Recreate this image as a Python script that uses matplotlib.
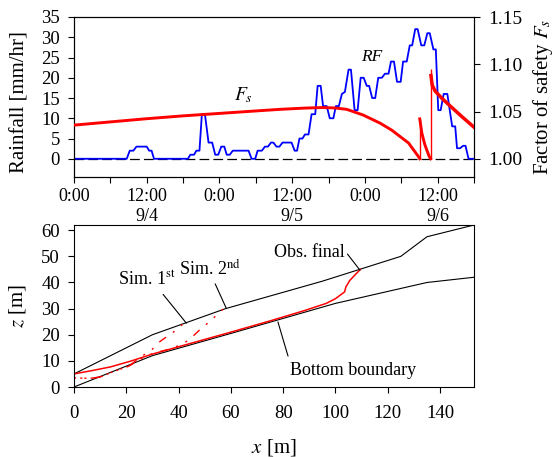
import matplotlib
matplotlib.use('Agg')
import matplotlib.pyplot as plt

plt.rcParams['font.family'] = ['Liberation Serif', 'DejaVu Serif']
plt.rcParams['mathtext.fontset'] = 'stix'
plt.rcParams['lines.scale_dashes'] = False

# ---------------- data: rainfall (hours from 9/4 0:00, mm/hr) ----------------
rain_t = [0, 8.7, 9.2, 9.8, 10.3, 12.0, 12.4, 12.8, 13.2, 18.8, 19.2, 19.8, 20.2, 20.7,
          21.1, 21.6, 22.2, 22.8, 23.3, 23.8, 24.3, 24.8, 25.2, 25.7, 26.2, 28.8, 29.3,
          29.9, 30.3, 31.0, 31.5, 32.0, 32.5, 32.9, 33.4, 33.9, 34.4, 35.9, 36.4, 36.8,
          37.2, 37.7, 38.1, 38.7, 39.2, 39.8, 40.2, 40.7, 41.1, 41.7, 42.2, 42.8, 43.2,
          43.7, 44.2, 44.7, 45.3, 45.7, 46.3, 46.8, 47.3, 47.8, 48.3, 48.7, 49.2, 49.7,
          50.2, 50.8, 51.3, 51.9, 52.3, 52.8, 53.3, 53.9, 54.3, 54.9, 55.4, 55.8, 56.3,
          56.7, 57.3, 57.8, 58.3, 58.7, 59.3, 59.7, 60.1, 60.5, 61.0, 61.6, 62.0, 62.4,
          62.9, 63.2, 63.7, 64.2, 64.6, 65.1, 66.0]
rain_v = [0, 0, 2, 2, 3, 3, 2, 2, 0, 0, 1, 1, 2, 2,
          11, 11, 4, 4, 1, 1, 3, 3, 1, 1, 2, 2, 0,
          0, 2, 2, 3, 3, 4, 4, 3, 3, 4, 4, 2, 2,
          5, 5, 6, 6, 11, 11, 18, 18, 13, 13, 10, 10, 13,
          13, 16, 16.5, 22, 22, 12, 12, 20, 20, 18, 18, 15, 15,
          20, 20, 21, 21, 24, 24, 19, 19, 24, 24, 28, 28, 32,
          32, 28, 28, 31, 31, 27, 27, 12, 12, 16, 16, 12, 8,
          8, 2.6, 2.6, 3.2, 3.2, 0, 0]

# ---------------- data: factor of safety ----------------
fs1_t = [0, 6, 12, 18, 24, 30, 34, 38, 41, 43, 45, 47.7, 50.5, 52.4, 55.2, 56.8, 57.05]
fs1_v = [1.0356, 1.0390, 1.0424, 1.0454, 1.0480, 1.0506, 1.0523, 1.0536, 1.0542,
         1.0538, 1.0523, 1.0463, 1.0377, 1.0304, 1.0167, 1.0026, 1.0]
fs2_t = [57.05, 57.4, 57.9, 58.6, 58.85]
fs2_v = [1.0422, 1.027, 1.0147, 1.0026, 1.0]
fs3_t = [58.9, 59.1, 59.6, 60.7, 62.3, 64.0, 66.0]
fs3_v = [1.088, 1.078, 1.0715, 1.064, 1.0545, 1.0446, 1.0334]
jump_t = [57.05, 58.85]
jump_lo = [1.0, 1.0]
jump_hi = [1.0422, 1.0947]

xtick_hours = [0, 12, 24, 36, 48, 60]
xtick_labels = ['0:00', '12:00\n9/4', '0:00', '12:00\n9/5', '0:00', '12:00\n9/6']

# ---------------- data: slope section ----------------
surf_x = [0, 30, 58, 95, 125, 135, 153]
surf_z = [5, 20, 30, 40.5, 50, 57.5, 62]
bot_x = [0, 30, 60, 100, 135, 153]
bot_z = [0, 12, 20.5, 32, 40, 42]
obs_x = [0, 7, 14, 22, 30, 45, 60, 75, 88, 96.5, 100, 103.5, 104, 105.5, 109.5]
obs_z = [5, 6.3, 7.7, 10.0, 12.6, 16.8, 21.0, 25.3, 29.2, 32, 33.8, 36.4, 38.3, 40.8, 45]
sim1_x = [0, 6, 10, 14, 21, 26, 30, 33, 38, 42.5]
sim1_z = [3.5, 3.3, 3.8, 5.5, 8, 11.8, 14.5, 17.5, 21, 24.8]
sim2_x = [0, 6, 10, 14, 21, 26, 30, 36.5, 40.5, 44, 48, 52.5, 57]
sim2_z = [3.5, 3.3, 3.8, 5.5, 8, 11.0, 12.8, 14.5, 16, 18, 21.8, 25.6, 29.8]

W, H = 558, 457
fig = plt.figure(figsize=(W / 100, H / 100), dpi=100)

# ================= top panel =================
ax1 = fig.add_axes([74 / W, 1 - 177 / H, 400 / W, 160 / H])
ax2 = ax1.twinx()

ax1.plot([0, 66], [0, 0], color='black', lw=0.9, ls=(0, (7, 3)), zorder=1)
ax1.plot(rain_t, rain_v, color='#0000ff', lw=1.3, zorder=2)
ax1.set_xlim(0, 66)
ax1.set_ylim(-4.5, 35)
ax1.set_yticks(range(0, 36, 5))
ax1.set_xticks(xtick_hours)
ax1.set_xticklabels(xtick_labels, fontsize=13, linespacing=1.25)
ax1.set_xticks([6, 18, 30, 42, 54, 66], minor=True)
ax1.tick_params(axis='x', which='both', direction='out', length=4, width=0.8, pad=4)
ax1.tick_params(axis='y', direction='out', length=4, width=0.8, pad=6, labelsize=13.5)
ax1.set_ylabel('Rainfall [mm/hr]', fontsize=15)
ax1.yaxis.set_label_coords(-0.112, 0.47)
ax1.text(49.1, 25.2, 'RF', fontsize=12.5, style='italic', ha='center', va='center')
ax1.text(28.0, 15.6, r'$F_s$', fontsize=14, ha='center', va='center')

ax2.plot(fs1_t, fs1_v, color='#ff0000', lw=2.1, zorder=3)
ax2.plot(fs2_t, fs2_v, color='#ff0000', lw=2.1, zorder=3)
ax2.plot(fs3_t, fs3_v, color='#ff0000', lw=2.5, zorder=3)
ax2.vlines(jump_t, jump_lo, jump_hi, color='#ff0000', lw=1.0, zorder=3)
ax2.set_ylim(1 - 4.5 * 0.15 / 35, 1.15)
ax2.set_yticks([1.00, 1.05, 1.10, 1.15])
ax2.set_yticklabels(['1.00', '1.05', '1.10', '1.15'])
ax2.tick_params(axis='y', direction='out', length=4, width=0.8, pad=6, labelsize=14)
ax2.set_ylabel(r'Factor of safety $F_s$', fontsize=15)
ax2.yaxis.set_label_coords(1.142, 0.5)
ax2.set_xlim(0, 66)

for a in (ax1, ax2):
    for s in a.spines.values():
        s.set_linewidth(0.8)

# ================= bottom panel =================
ax3 = fig.add_axes([74 / W, 1 - 387 / H, 400 / W, 162 / H])
ax3.plot(surf_x, surf_z, color='black', lw=0.8)
ax3.plot(bot_x, bot_z, color='black', lw=0.8)
ax3.plot(obs_x, obs_z, color='#ff0000', lw=1.1)
ax3.plot(sim1_x, sim1_z, color='#ff0000', lw=1.0, ls=(0, (1.5, 6, 1.5, 6, 6, 6)))
ax3.plot(sim2_x, sim2_z, color='#ff0000', lw=1.0, ls=(3, (1.5, 6, 1.5, 6, 6, 6)))
ax3.set_xlim(0, 153)
ax3.set_ylim(0, 62)
ax3.set_xticks(range(0, 141, 20))
ax3.set_yticks(range(0, 61, 10))
ax3.tick_params(axis='x', direction='out', length=4, width=0.8, pad=9, labelsize=13.5)
ax3.tick_params(axis='y', direction='out', length=4, width=0.8, pad=6, labelsize=13.5)
ax3.set_xlabel(r'$x$ [m]', fontsize=15)
ax3.xaxis.set_label_coords(0.5, -0.31)
ax3.set_ylabel(r'$z$ [m]', fontsize=15)
ax3.yaxis.set_label_coords(-0.115, 0.5)
for s in ax3.spines.values():
    s.set_linewidth(0.8)

lp = dict(arrowstyle='-', color='black', lw=0.8, shrinkA=2, shrinkB=0)
ax3.annotate(r'Sim. 1$^{\mathrm{st}}$', xy=(43, 24.4), xytext=(27.7, 40.8),
             ha='center', va='center', fontsize=13,
             arrowprops=dict(lp, relpos=(0.72, 0)))
ax3.annotate(r'Sim. 2$^{\mathrm{nd}}$', xy=(58.3, 30.0), xytext=(51.9, 45.3),
             ha='center', va='center', fontsize=13,
             arrowprops=dict(lp, relpos=(0.55, 0)))
ax3.annotate('Obs. final', xy=(109.4, 44.7), xytext=(90, 51.6),
             ha='center', va='center', fontsize=13,
             arrowprops=dict(lp, relpos=(1.0, 0.6), shrinkA=0))
ax3.annotate('Bottom boundary', xy=(78, 24.9), xytext=(106.6, 6.5),
             ha='center', va='center', fontsize=13,
             arrowprops=dict(lp, relpos=(0.0, 1.0)))

fig.savefig('out.png', dpi=100)
